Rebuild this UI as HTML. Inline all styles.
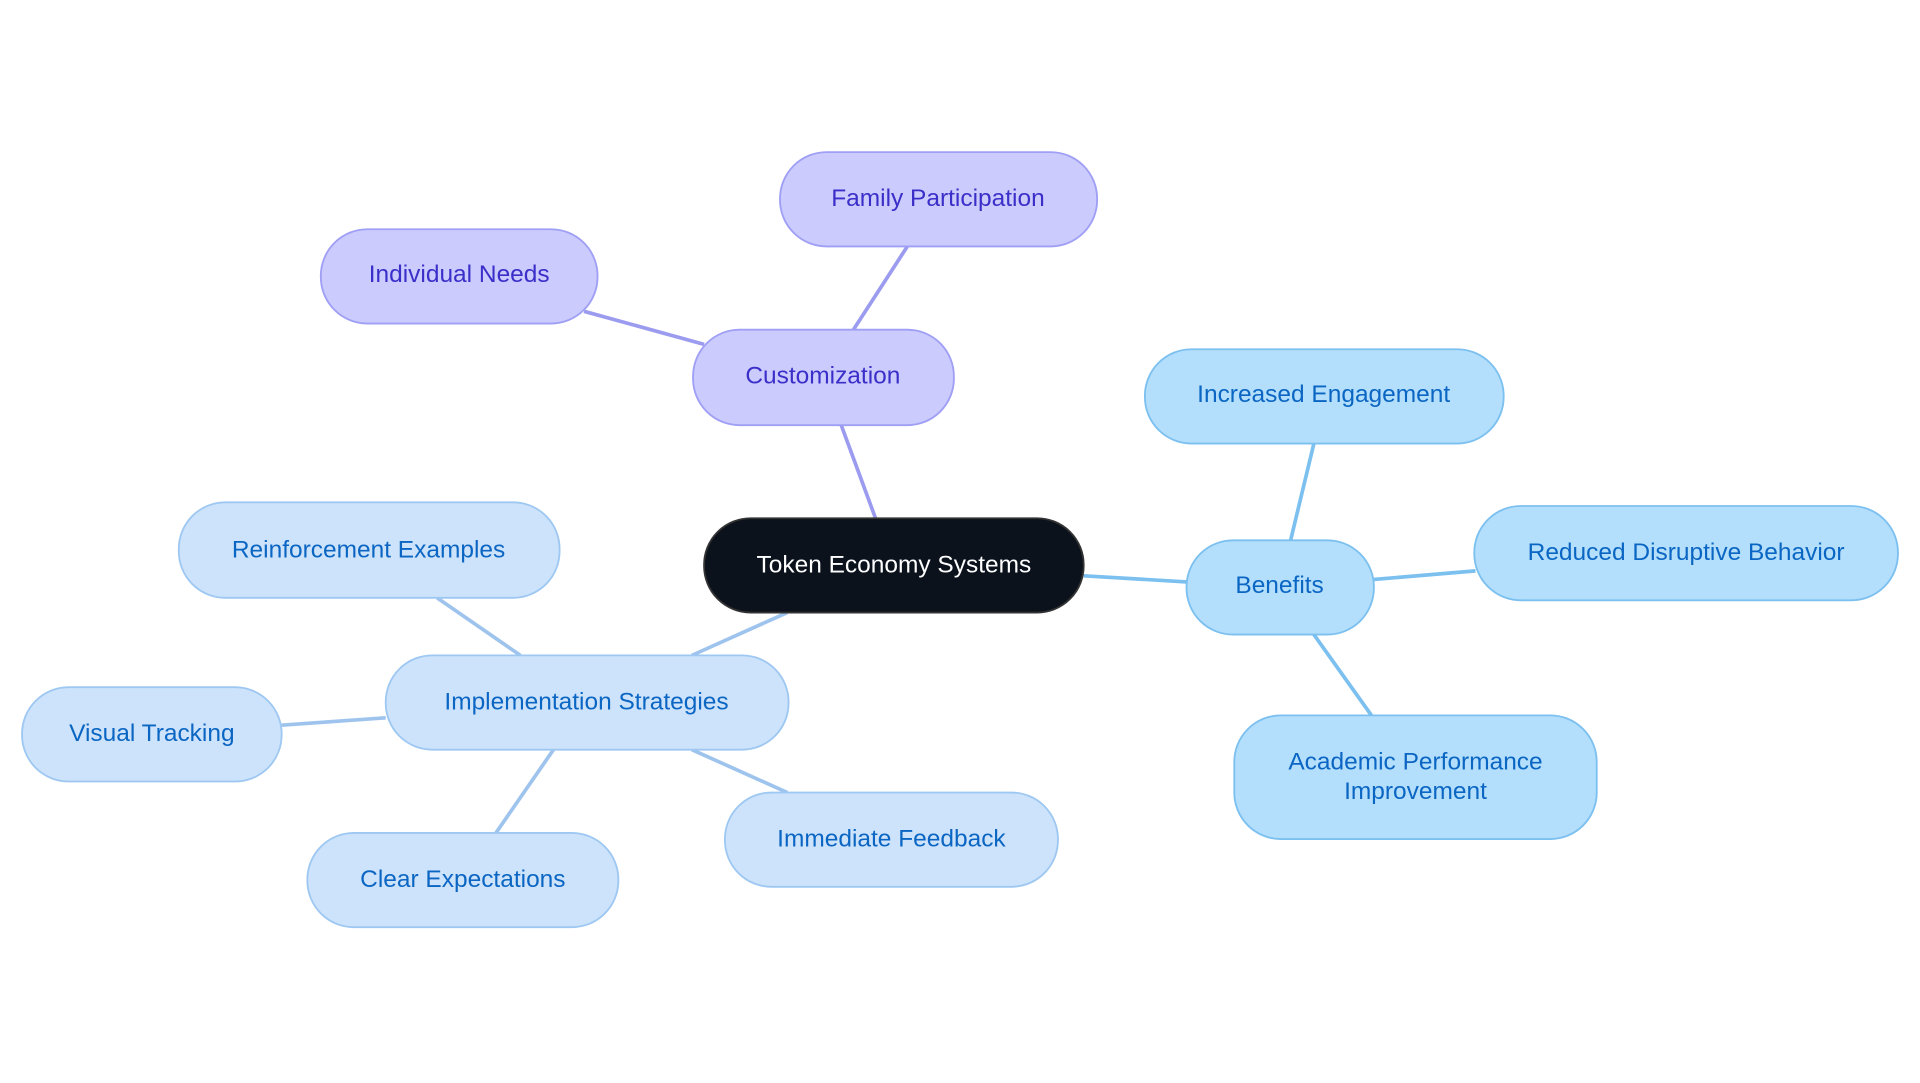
<!DOCTYPE html>
<html><head><meta charset="utf-8"><style>
html,body{margin:0;padding:0;background:#fff;width:1920px;height:1083px;overflow:hidden}
text{font-family:"Liberation Sans",sans-serif;font-size:20px;text-anchor:middle;dominant-baseline:central}
</style></head><body>
<svg width="1920" height="1083" viewBox="0 0 1568 884" xmlns="http://www.w3.org/2000/svg">
<g stroke-width="3" fill="none">
<line x1="715" y1="423" x2="687" y2="347" stroke="#9b9bf0"/>
<line x1="697" y1="269" x2="741" y2="201" stroke="#9b9bf0"/>
<line x1="575" y1="281" x2="477" y2="254" stroke="#9b9bf0"/>
<line x1="885" y1="470" x2="969" y2="475" stroke="#7cc0f0"/>
<line x1="1054" y1="441" x2="1073" y2="362" stroke="#7cc0f0"/>
<line x1="1122" y1="473" x2="1205" y2="466" stroke="#7cc0f0"/>
<line x1="1073" y1="518" x2="1120" y2="584" stroke="#7cc0f0"/>
<line x1="643" y1="500" x2="565" y2="535" stroke="#9ec4ee"/>
<line x1="425" y1="535" x2="357" y2="488" stroke="#9ec4ee"/>
<line x1="315" y1="586" x2="230" y2="592" stroke="#9ec4ee"/>
<line x1="452" y1="612" x2="405" y2="680" stroke="#9ec4ee"/>
<line x1="565" y1="612" x2="643" y2="647" stroke="#9ec4ee"/>
</g>
<g stroke-width="1.5">
<rect x="575" y="423" width="310" height="77" rx="38" fill="#0b121c" stroke="#333"/>
<g fill="#cbcbfd" stroke="#9f9ff5">
<rect x="566" y="269" width="213" height="78" rx="38"/>
<rect x="637" y="124" width="259" height="77" rx="38"/>
<rect x="262" y="187" width="226" height="77" rx="38"/>
</g>
<g fill="#b3dffc" stroke="#7cc0f0">
<rect x="969" y="441" width="153" height="77" rx="38"/>
<rect x="935" y="285" width="293" height="77" rx="38"/>
<rect x="1204" y="413" width="346" height="77" rx="38"/>
<rect x="1008" y="584" width="296" height="101" rx="38"/>
</g>
<g fill="#cde3fb" stroke="#9ec8f2">
<rect x="315" y="535" width="329" height="77" rx="38"/>
<rect x="146" y="410" width="311" height="78" rx="38"/>
<rect x="18" y="561" width="212" height="77" rx="38"/>
<rect x="251" y="680" width="254" height="77" rx="38"/>
<rect x="592" y="647" width="272" height="77" rx="38"/>
</g>
</g>
<text x="730" y="461" fill="#fff">Token Economy Systems</text>
<g fill="#3b2fc9">
<text x="672" y="307">Customization</text>
<text x="766" y="162">Family Participation</text>
<text x="375" y="224">Individual Needs</text>
</g>
<g fill="#0b66c3">
<text x="1045" y="478">Benefits</text>
<text x="1081" y="322">Increased Engagement</text>
<text x="1377" y="451">Reduced Disruptive Behavior</text>
<text x="1156" y="622">Academic Performance</text>
<text x="1156" y="646">Improvement</text>
<text x="479" y="573">Implementation Strategies</text>
<text x="301" y="449">Reinforcement Examples</text>
<text x="124" y="599">Visual Tracking</text>
<text x="378" y="718">Clear Expectations</text>
<text x="728" y="685">Immediate Feedback</text>
</g>
</svg>
</body></html>
